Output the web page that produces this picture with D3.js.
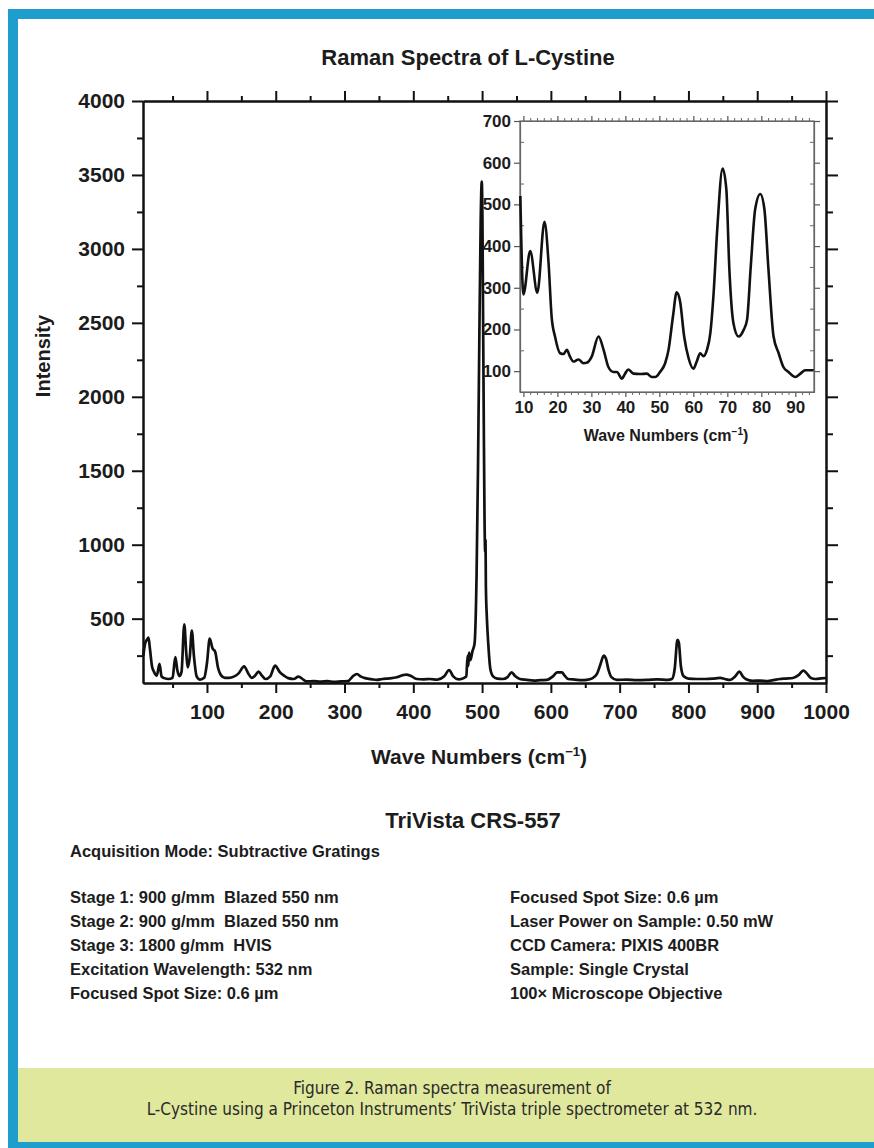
<!DOCTYPE html>
<html>
<head>
<meta charset="utf-8">
<script src="https://cdn.jsdelivr.net/npm/d3@7"></script>
<style>
  body { margin: 0; background: #fff; }
  text { font-family: "Liberation Sans", Arial, Helvetica, sans-serif; fill: #1c1c1c; white-space: pre; }
  .bold { font-weight: bold; }
  .caption { font-family: "Liberation Sans Narrow", "DejaVu Sans Condensed", sans-serif; font-stretch: condensed; fill: #2a2a2a; }
</style>
</head>
<body>
<div id="container"></div>
<script>
let w = 874;
let h = 1148;

// main spectrum (wave number, intensity)
let mainWave = [7.5, 10, 13, 15, 17, 20, 23, 27, 31, 34, 38, 44, 50, 54, 57, 60, 63, 67, 70, 72, 75, 78, 81, 85, 90, 96, 100, 104, 108, 112, 116, 120, 126, 132, 139, 146, 154, 160, 165, 170, 175, 180, 185, 192, 199, 206, 212, 218, 226, 233, 240, 245, 255, 265, 275, 285, 295, 305, 312, 318, 324, 330, 340, 347, 355, 365, 376, 385, 390, 396, 405, 415, 424, 435, 445, 452, 458, 466, 474, 477, 479, 480, 481, 483, 486, 489, 492, 494, 496, 498, 499.5, 500.5, 501.5, 502.5, 503.5, 504.5, 505, 505.5, 507, 509, 512, 516, 522, 530, 537, 543, 548, 555, 565, 575, 585, 594, 603, 609, 616, 620, 625, 635, 645, 652, 660, 667, 672, 677, 680, 684, 688, 696, 710, 725, 740, 755, 770, 776, 780, 784, 786, 789, 793, 800, 812, 825, 835, 846, 853, 860, 868, 874, 879, 884, 893, 904, 915, 925, 933, 942, 952, 960, 967, 972, 978, 985, 993, 1000];
let mainIntensity = [250, 330, 360, 372, 300, 180, 140, 115, 195, 110, 98, 92, 100, 240, 150, 112, 140, 462, 260, 170, 240, 420, 250, 110, 88, 100, 200, 365, 300, 275, 170, 120, 100, 100, 108, 130, 178, 130, 100, 115, 142, 115, 92, 110, 182, 138, 115, 98, 92, 108, 88, 76, 78, 74, 78, 72, 76, 78, 110, 126, 108, 98, 90, 86, 92, 96, 104, 118, 122, 114, 92, 90, 92, 88, 110, 153, 110, 90, 100, 110, 250, 180, 270, 220, 280, 330, 800, 1500, 2400, 3200, 3455, 3200, 2500, 1800, 1200, 950, 1030, 720, 500, 330, 160, 110, 95, 92, 105, 137, 112, 92, 86, 81, 84, 86, 110, 137, 137, 115, 92, 88, 84, 86, 96, 126, 190, 250, 230, 150, 105, 86, 88, 84, 86, 90, 86, 92, 160, 356, 340, 180, 110, 95, 92, 92, 94, 99, 92, 86, 110, 142, 110, 90, 80, 81, 78, 86, 92, 95, 99, 118, 149, 130, 99, 92, 96, 99];

// low-frequency inset
let insetWave = [9.1, 10, 12, 14.1, 16.2, 17.4, 18.3, 19.3, 20.8, 21.8, 22.8, 23.7, 24.7, 26.2, 27.7, 28.6, 30.1, 32.1, 33.6, 35, 36.5, 37.5, 39, 39.9, 40.9, 42.4, 44.3, 46.3, 47.8, 48.8, 50.2, 51.7, 52.7, 54, 55.1, 56.1, 57.3, 58.6, 60, 61, 62, 63, 64, 65, 65.9, 67.1, 68.6, 69.7, 70.6, 71.8, 73.3, 74.8, 75.8, 76.9, 78.2, 79.7, 80.9, 82.1, 83.6, 85.1, 86.5, 88, 90, 91.5, 92.9, 95.4];
let insetIntensity = [520, 284, 388, 288, 458, 360, 231, 183, 143, 141, 151, 135, 123, 128, 119, 120, 135, 183, 151, 110, 98, 98, 82, 94, 104, 94, 93, 94, 86, 86, 98, 119, 151, 231, 289, 267, 183, 131, 106, 123, 143, 136, 151, 191, 279, 449, 586, 537, 344, 215, 183, 199, 223, 352, 489, 525, 489, 344, 183, 143, 110, 98, 86, 94, 102, 102];

let mainXTicks = [100, 200, 300, 400, 500, 600, 700, 800, 900, 1000];
let mainYTicks = [500, 1000, 1500, 2000, 2500, 3000, 3500, 4000];
let insetXTicks = [10, 20, 30, 40, 50, 60, 70, 80, 90];
let insetYTicks = [100, 200, 300, 400, 500, 600, 700];

let headerLine = "Acquisition Mode: Subtractive Gratings";
let leftLines = ["Stage 1: 900 g/mm  Blazed 550 nm", "Stage 2: 900 g/mm  Blazed 550 nm", "Stage 3: 1800 g/mm  HVIS", "Excitation Wavelength: 532 nm", "Focused Spot Size: 0.6 \u00b5m"];
let rightLines = ["Focused Spot Size: 0.6 \u00b5m", "Laser Power on Sample: 0.50 mW", "CCD Camera: PIXIS 400BR", "Sample: Single Crystal", "100\u00d7 Microscope Objective"];
let captionLines = ["Figure 2. Raman spectra measurement of", "L-Cystine using a Princeton Instruments\u2019 TriVista triple spectrometer at 532 nm."];

let viz = d3.select("#container").append("svg")
  .attr("width", w)
  .attr("height", h)
  .style("display", "block")
  .style("background-color", "white");

// page frame
let blue = "#1f9dcc";
viz.append("rect").attr("x", 8).attr("y", 9).attr("width", 10).attr("height", h - 9).attr("fill", blue);
viz.append("rect").attr("x", 8).attr("y", 9).attr("width", w - 8).attr("height", 10).attr("fill", blue);
viz.append("rect").attr("x", 18).attr("y", 1068).attr("width", w - 18).attr("height", 74).attr("fill", "#dfe89d");
viz.append("rect").attr("x", 8).attr("y", 1142).attr("width", w - 8).attr("height", 6).attr("fill", blue);

// title
viz.append("text").attr("class", "bold").attr("x", 468).attr("y", 65)
  .attr("text-anchor", "middle").style("font-size", "22px")
  .text("Raman Spectra of L-Cystine");

// MAIN PLOT
let x = d3.scaleLinear().domain([7, 1000]).range([143, 826]);
let y = d3.scaleLinear().domain([65, 4000]).range([683, 101]);

function styleAxis(g, width, color) {
  g.select(".domain").attr("stroke", color).attr("stroke-width", width);
  g.selectAll(".tick line").attr("stroke", color).attr("stroke-width", width);
}

let minorX = d3.range(50, 1000, 100);
let minorY = d3.range(250, 4000, 500);

let bottomAxis = viz.append("g").attr("transform", "translate(0,683)")
  .call(d3.axisBottom(x).tickValues(mainXTicks).tickFormat(d3.format("d")).tickSize(10).tickSizeOuter(0).tickPadding(11));
bottomAxis.selectAll("text").attr("class", "bold").style("font-size", "21px").attr("fill", "#1c1c1c");
styleAxis(bottomAxis, 2, "#111");
let bottomMinor = viz.append("g").attr("transform", "translate(0,683)")
  .call(d3.axisBottom(x).tickValues(minorX).tickSize(5).tickSizeOuter(0).tickFormat(""));
styleAxis(bottomMinor, 2, "#111");

let topAxis = viz.append("g").attr("transform", "translate(0,101)")
  .call(d3.axisTop(x).tickValues(mainXTicks).tickSize(10).tickSizeOuter(0).tickFormat(""));
styleAxis(topAxis, 2, "#111");
let topMinor = viz.append("g").attr("transform", "translate(0,101)")
  .call(d3.axisTop(x).tickValues(minorX).tickSize(5).tickSizeOuter(0).tickFormat(""));
styleAxis(topMinor, 2, "#111");

let leftAxis = viz.append("g").attr("transform", "translate(143,0)")
  .call(d3.axisLeft(y).tickValues(mainYTicks).tickFormat(d3.format("d")).tickSize(11).tickSizeOuter(0).tickPadding(7));
leftAxis.selectAll("text").attr("class", "bold").style("font-size", "21px").attr("fill", "#1c1c1c");
styleAxis(leftAxis, 2, "#111");
let leftMinor = viz.append("g").attr("transform", "translate(143,0)")
  .call(d3.axisLeft(y).tickValues(minorY).tickSize(6).tickSizeOuter(0).tickFormat(""));
styleAxis(leftMinor, 2, "#111");

let rightAxis = viz.append("g").attr("transform", "translate(826,0)")
  .call(d3.axisRight(y).tickValues(mainYTicks).tickSize(12).tickSizeOuter(0).tickFormat(""));
styleAxis(rightAxis, 2, "#111");
let rightMinor = viz.append("g").attr("transform", "translate(826,0)")
  .call(d3.axisRight(y).tickValues(minorY).tickSize(7).tickSizeOuter(0).tickFormat(""));
styleAxis(rightMinor, 2, "#111");

let lineMaker = d3.line()
  .x(function (d, i) { return x(mainWave[i]); })
  .y(function (d, i) { return y(mainIntensity[i]); })
  .curve(d3.curveMonotoneX);

viz.append("path").datum(mainWave)
  .attr("d", lineMaker)
  .attr("fill", "none")
  .attr("stroke", "#111")
  .attr("stroke-width", 2.7)
  .attr("stroke-linejoin", "round");

// axis titles
let xTitle = viz.append("text").attr("class", "bold").attr("x", 479).attr("y", 764)
  .attr("text-anchor", "middle").style("font-size", "21px");
xTitle.append("tspan").text("Wave Numbers (cm");
xTitle.append("tspan").attr("dy", -8).style("font-size", "13px").text("\u22121");
xTitle.append("tspan").attr("dy", 8).text(")");

viz.append("text").attr("class", "bold")
  .attr("transform", "translate(50,356) rotate(-90)")
  .attr("text-anchor", "middle").style("font-size", "20px")
  .text("Intensity");

// INSET
let ix = d3.scaleLinear().domain([9, 95.5]).range([520, 814]);
let iy = d3.scaleLinear().domain([50, 700]).range([392, 121]);

viz.append("rect").attr("x", 520).attr("y", 121).attr("width", 294).attr("height", 271)
  .attr("fill", "white").attr("stroke", "#666").attr("stroke-width", 1.2);

let insetMinorX = d3.range(12, 96, 2).filter(function (v) { return v % 10 != 0; });
let insetMinorY = d3.range(150, 700, 100);

let ib = viz.append("g").attr("transform", "translate(0,392)")
  .call(d3.axisBottom(ix).tickValues(insetXTicks).tickSize(5).tickSizeOuter(0).tickPadding(4));
ib.selectAll("text").attr("class", "bold").style("font-size", "17px").attr("fill", "#1c1c1c");
styleAxis(ib, 1.2, "#555");
let ibm = viz.append("g").attr("transform", "translate(0,392)")
  .call(d3.axisBottom(ix).tickValues(insetMinorX).tickSize(3).tickSizeOuter(0).tickFormat(""));
styleAxis(ibm, 1, "#666");

let it = viz.append("g").attr("transform", "translate(0,121)")
  .call(d3.axisTop(ix).tickValues(insetXTicks).tickSize(5).tickSizeOuter(0).tickFormat(""));
styleAxis(it, 1.2, "#555");
let itm = viz.append("g").attr("transform", "translate(0,121)")
  .call(d3.axisTop(ix).tickValues(insetMinorX).tickSize(3).tickSizeOuter(0).tickFormat(""));
styleAxis(itm, 1, "#666");

let il = viz.append("g").attr("transform", "translate(520,0)")
  .call(d3.axisLeft(iy).tickValues(insetYTicks).tickSize(6).tickSizeOuter(0).tickPadding(3));
il.selectAll("text").attr("class", "bold").style("font-size", "17px").attr("fill", "#1c1c1c");
styleAxis(il, 1.2, "#555");
let ilm = viz.append("g").attr("transform", "translate(520,0)")
  .call(d3.axisLeft(iy).tickValues(insetMinorY).tickSize(-4).tickSizeOuter(0).tickFormat(""));
styleAxis(ilm, 1, "#666");

let ir = viz.append("g").attr("transform", "translate(814,0)")
  .call(d3.axisRight(iy).tickValues(insetYTicks).tickSize(6).tickSizeOuter(0).tickFormat(""));
styleAxis(ir, 1.2, "#555");
let irm = viz.append("g").attr("transform", "translate(814,0)")
  .call(d3.axisRight(iy).tickValues(insetMinorY).tickSize(-4).tickSizeOuter(0).tickFormat(""));
styleAxis(irm, 1, "#666");

let insetLine = d3.line()
  .x(function (d, i) { return ix(insetWave[i]); })
  .y(function (d, i) { return iy(insetIntensity[i]); })
  .curve(d3.curveMonotoneX);

viz.append("path").datum(insetWave)
  .attr("d", insetLine)
  .attr("fill", "none")
  .attr("stroke", "#111")
  .attr("stroke-width", 2.6)
  .attr("stroke-linejoin", "round");

let ixTitle = viz.append("text").attr("class", "bold").attr("x", 666).attr("y", 441)
  .attr("text-anchor", "middle").style("font-size", "16px");
ixTitle.append("tspan").text("Wave Numbers (cm");
ixTitle.append("tspan").attr("dy", -6).style("font-size", "10px").text("\u22121");
ixTitle.append("tspan").attr("dy", 6).text(")");

// INSTRUMENT TEXT
viz.append("text").attr("class", "bold").attr("x", 473).attr("y", 828)
  .attr("text-anchor", "middle").style("font-size", "22px")
  .text("TriVista CRS-557");

viz.append("text").attr("class", "bold").attr("x", 70).attr("y", 857)
  .style("font-size", "16.5px").text(headerLine);

viz.selectAll(".leftLine").data(leftLines).enter()
  .append("text").attr("class", "leftLine bold")
  .attr("x", 70)
  .attr("y", function (d, i) { return 903 + i * 24; })
  .style("font-size", "16.5px")
  .text(function (d) { return d; });

viz.selectAll(".rightLine").data(rightLines).enter()
  .append("text").attr("class", "rightLine bold")
  .attr("x", 510)
  .attr("y", function (d, i) { return 903 + i * 24; })
  .style("font-size", "16.5px")
  .text(function (d) { return d; });

// caption
viz.selectAll(".capLine").data(captionLines).enter()
  .append("text").attr("class", "capLine caption")
  .attr("x", 452)
  .attr("y", function (d, i) { return 1094 + i * 21; })
  .attr("text-anchor", "middle")
  .style("font-size", "17px")
  .text(function (d) { return d; });
</script>
</body>
</html>
